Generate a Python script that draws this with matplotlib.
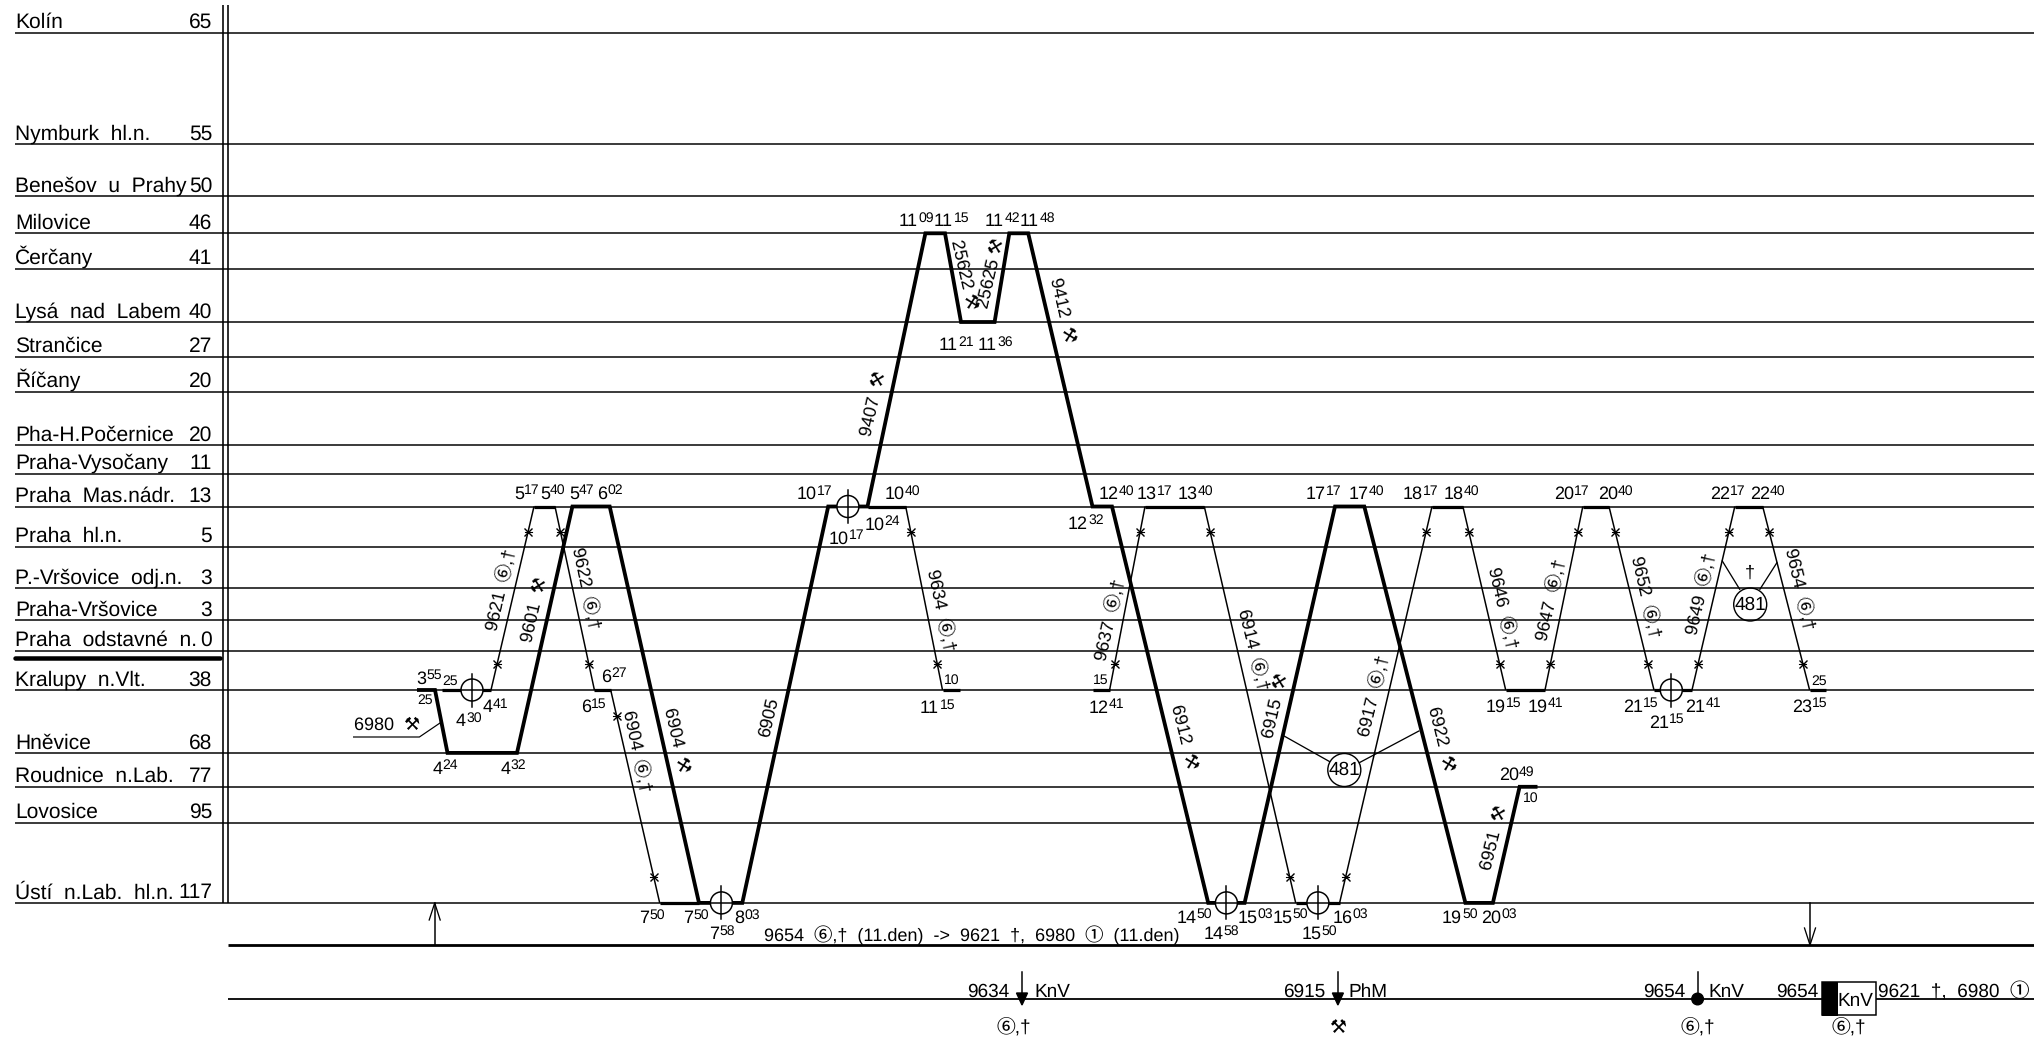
import matplotlib
matplotlib.use("Agg")
import matplotlib.pyplot as plt
from matplotlib.patches import Circle, Rectangle

FONT = ['Liberation Sans', 'Noto Sans CJK SC', 'DejaVu Sans']
plt.rcParams['font.family'] = FONT
plt.rcParams['text.hinting'] = 'no_hinting'
plt.rcParams['text.hinting_factor'] = 1

# ---------- data ----------
station_names = ["Kolín", "Nymburk  hl.n.", "Benešov  u  Prahy", "Milovice", "Čerčany",
                 "Lysá  nad  Labem", "Strančice", "Říčany", "Pha-H.Počernice", "Praha-Vysočany",
                 "Praha  Mas.nádr.", "Praha  hl.n.", "P.-Vršovice  odj.n.", "Praha-Vršovice",
                 "Praha  odstavné  n.", "Kralupy  n.Vlt.", "Hněvice", "Roudnice  n.Lab.",
                 "Lovosice", "Ústí  n.Lab.  hl.n."]
station_km = [65, 55, 50, 46, 41, 40, 27, 20, 20, 11, 13, 5, 3, 3, 0, 38, 68, 77, 95, 117]
station_pos = [32.7, 144.3, 196, 233.3, 268.7, 322, 356.7, 391.7, 445, 473.7,
               506.5, 546.8, 588.2, 620, 650.7, 690, 752.9, 786.8, 822.5, 902.9]
MIL, LYS, MAS, KRA, HNE, ROU, UST = 3, 5, 10, 15, 16, 17, 19

# Graph position of each turn of the thick (locomotive) diagram and its station
thick_x = [417, 435, 447.5, 517, 572.4, 609.7, 699, 742.3, 828.2, 867.5, 925.4, 945, 961, 994.6,
           1009.3, 1028.2, 1092.5, 1112, 1208.2, 1244.6, 1335, 1364.3, 1465.4, 1492.9, 1519.6, 1537.5]
thick_st = [KRA, KRA, HNE, HNE, MAS, MAS, UST, UST, MAS, MAS, MIL, MIL, LYS, LYS,
            MIL, MIL, MAS, MAS, UST, UST, MAS, MAS, UST, UST, ROU, ROU]

# Thin runs: each is a list of (x at top/bottom) with stations
thin_runs = {
    "9621": ([491, 534], [KRA, MAS]),
    "9622": ([555, 594.4], [MAS, KRA]),
    "6904": ([610.7, 659.7], [KRA, UST]),
    "9634": ([905.7, 942.5], [MAS, KRA]),
    "9637": ([1109.6, 1145], [KRA, MAS]),
    "6914": ([1204.3, 1295.7], [MAS, UST]),
    "6917": ([1339.6, 1432], [UST, MAS]),
    "9646": ([1462.9, 1505.7], [MAS, KRA]),
    "9647": ([1545, 1582.8], [KRA, MAS]),
    "9652": ([1609, 1654], [MAS, KRA]),
    "9649": ([1692, 1734.8], [KRA, MAS]),
    "9654": ([1762.7, 1809.6], [MAS, KRA]),
}
# Stops drawn heavy on the thin runs
stop_x0 = [442, 534, 594.4, 659.7, 867.5, 942.5, 1092.5, 1145, 1295.7, 1432, 1505.7, 1582.8, 1654, 1734.8, 1809.6]
stop_x1 = [491, 555, 610.7, 699, 905.7, 959.6, 1109.6, 1204.3, 1339.6, 1462.9, 1545, 1609, 1692, 1762.7, 1825.8]
stop_st = [KRA, MAS, KRA, UST, MAS, KRA, KRA, MAS, UST, MAS, KRA, MAS, KRA, MAS, KRA]

crossing_x = [472, 721.4, 847.9, 1226.4, 1317.9, 1671.3]
crossing_st = [KRA, UST, MAS, UST, UST, KRA]

# Train-number labels
train_labels = ["9621  ⑥,†", "9601  ⚒", "9622  ⑥,†", "6904  ⑥,†", "6904  ⚒", "6905",
                "9407  ⚒", "25622 ⚒", "25625 ⚒", "9412  ⚒", "9634  ⑥,†", "9637  ⑥,†",
                "6914  ⑥,†", "6915  ⚒", "6912  ⚒", "6917  ⑥,†", "6922  ⚒", "6951  ⚒",
                "9646  ⑥,†", "9647  ⑥,†", "9652  ⑥,†", "9649  ⑥,†", "9654  ⑥,†"]
# Time labels: hour, minutes
time_hours = ["5", "5", "5", "6", "3", "4", "4", "6", "6", "4", "4", "7", "7", "8", "7",
              "11", "11", "11", "11", "11", "11", "10", "10", "10", "10", "12", "13", "13", "12", "11", "12",
              "17", "17", "18", "18", "20", "14", "15", "15", "16", "14", "15", "19", "20", "20", "19", "19",
              "20", "22", "22", "21", "21", "21", "23"]
time_mins = ["17", "40", "47", "02", "55", "30", "41", "15", "27", "24", "32", "50", "50", "03", "58",
             "09", "15", "42", "48", "21", "36", "17", "40", "24", "17", "40", "17", "40", "32", "15", "41",
             "17", "40", "17", "40", "17", "50", "03", "50", "03", "58", "50", "50", "03", "49", "15", "41",
             "40", "17", "40", "15", "41", "15", "15"]
small_minutes = ["25", "25", "10", "15", "10", "25"]

# ---------- layout ----------
W, H = 2034, 1040
fig = plt.figure(figsize=(W / 100, H / 100), dpi=100)
ax = fig.add_axes([0, 0, 1, 1])
ax.set_xlim(0, W)
ax.set_ylim(H, 0)
ax.axis('off')

px = 0.72
LINE = 1.5 * px
THIN = 1.5 * px
THICK = 3.8 * px
STOP = 3.2 * px
BLK = '#000000'
yof = station_pos

# station lines and names
for n, k, y in zip(station_names, station_km, station_pos):
    ax.plot([15, W], [y, y], color=BLK, lw=LINE, solid_capstyle='butt', zorder=1)
    ax.text(15, y - 4.6, n, fontsize=15.2, va='baseline', ha='left', color=BLK)
    ax.text(212, y - 4.6, str(k), fontsize=15, va='baseline', ha='right', color=BLK)
ax.plot([15, 220], [658, 658], color=BLK, lw=4.5 * px, solid_capstyle='round', zorder=2)
for x in (223, 228):
    ax.plot([x, x], [5, 903], color=BLK, lw=1.6 * px, solid_capstyle='butt', zorder=2)
ax.plot([228, W], [945.4, 945.4], color=BLK, lw=2.8 * px, solid_capstyle='butt', zorder=2)
ax.plot([228, W], [998.6, 998.6], color=BLK, lw=1.8 * px, solid_capstyle='butt', zorder=2)

# heavy diagram
ax.plot(thick_x, [yof[s] for s in thick_st], color=BLK, lw=THICK, solid_joinstyle='miter',
        solid_capstyle='butt', zorder=3)
# thin runs and crosses
cross_levels = {"6904": (715.7, 877), "6914": (532, 876.5), "6917": (876.5, 532)}
for key, (xs, st) in thin_runs.items():
    ys = [yof[s] for s in st]
    ax.plot(xs, ys, color=BLK, lw=THIN, solid_capstyle='butt', zorder=3)
    if key in cross_levels:
        lv = cross_levels[key]
    else:
        lv = (532, 664) if ys[0] < ys[1] else (664, 532)
    for l in lv:
        xc = xs[0] + (xs[1] - xs[0]) * (l - ys[0]) / (ys[1] - ys[0])
        ax.plot([xc], [l], marker='x', ms=6, mew=1.0, color=BLK, zorder=4)
        ax.plot([xc - 3.5, xc + 3.5], [l, l], color=BLK, lw=0.8, zorder=4)
for a, b, s in zip(stop_x0, stop_x1, stop_st):
    ax.plot([a, b], [yof[s], yof[s]], color=BLK, lw=STOP, solid_capstyle='butt', zorder=3)

# crossing symbols
for x, s in zip(crossing_x, crossing_st):
    y = yof[s]
    ax.add_patch(Circle((x, y), 11, fill=True, fc='white', ec=BLK, lw=1.5 * px, zorder=4))
    ax.plot([x - 11, x + 11], [y, y], color=BLK, lw=LINE, zorder=5)
    ax.plot([x, x], [y - 16.5, y + 16.5], color=BLK, lw=1.5 * px, zorder=5)

# train labels
train_xy = [(501, 590, 77), (534.7, 610, 77), (585.7, 588, -78), (636.7, 750.7, -78), (676, 740, -77),
            (769, 717.5, 77), (873.6, 403.8, 77), (964, 274.5, -77), (991.4, 272.8, 77), (1062, 309.7, -77),
            (940.7, 610, -78), (1110.4, 620, 77), (1252.9, 650, -76), (1276, 705.6, 77), (1183.2, 737.3, -76),
            (1373.6, 696, 76), (1440.4, 739, -76), (1493.9, 837.3, 76), (1502.9, 608, -77), (1551, 600, 77),
            (1645.9, 597, -77), (1701, 593.6, 77), (1800, 589, -77)]
for t, (x, y, r) in zip(train_labels, train_xy):
    ax.text(x, y, t, fontsize=13, rotation=r, ha='center', va='center', color=BLK, zorder=6)

# time labels
fig.canvas.draw()
rend = fig.canvas.get_renderer()
time_xy = [(514, 498.6), (540, 498.6), (569, 498.6), (597, 498.6), (416, 683.6), (456, 726.4), (483, 712),
           (581, 712), (601, 681.8), (432.6, 773.6), (500.5, 773.6), (639, 922.9), (683, 922.9), (734, 922.9),
           (709, 939),
           (898.6, 226), (933.6, 226), (984.3, 226), (1020, 226), (938.6, 350), (977.5, 350),
           (797, 499.3), (884.3, 499.3), (864.3, 529.7), (829, 543.4), (1098.6, 499.3), (1137, 499.3),
           (1178, 499.3), (1067.9, 528.6), (920, 713), (1089, 713),
           (1305.4, 499.3), (1348.6, 499.3), (1402.9, 499.3), (1444, 499.3), (1554, 499.3),
           (1176.8, 922.7), (1237.5, 922.7), (1272.5, 922.7), (1332.5, 922.7), (1203.6, 939), (1301.4, 939),
           (1442, 922.7), (1481.4, 922.7), (1498.6, 780), (1485.7, 711.8), (1527.9, 711.8),
           (1598, 499.3), (1710, 499.3), (1750, 499.3), (1623, 711.8), (1685.5, 711.8), (1648.7, 727.5),
           (1792, 711.8)]
for h, m, (x, y) in zip(time_hours, time_mins, time_xy):
    ax.text(x, y, h, fontsize=13, va='baseline', ha='left', color=BLK, zorder=6)
    w = 0.556 * 13 / 0.72 * len(h)
    ax.text(x + w, y - 4.5, m, fontsize=9.8, va='baseline', ha='left', color=BLK, zorder=6)

small_xy = [(442, 684.6), (417, 703.6), (944.3, 684), (1092.5, 684), (1522.5, 802), (1811, 684.5)]
for m, (x, y) in zip(small_minutes, small_xy):
    ax.text(x, y, m, fontsize=9.8, va='baseline', ha='left', color=BLK, zorder=6)

# 6980 leader
ax.text(353.6, 730, "6980  ⚒", fontsize=13.2, va='baseline', ha='left', color=BLK)
ax.plot([353.6, 419.4, 440], [737, 737, 723], color=BLK, lw=1.2 * px, zorder=3)

# 481 circles
for x, y in [(1344.3, 770), (1750.2, 604.5)]:
    ax.add_patch(Circle((x, y), 16.5, fill=False, ec=BLK, lw=1.4 * px, zorder=5))
    ax.text(x, y, "481", fontsize=13.5, ha='center', va='center', color=BLK, zorder=6)
for xs, ys in [([1283.2, 1329.6], [735.5, 761.6]), ([1418.9, 1359.3], [731, 762.7]),
               ([1722.3, 1739.7], [561, 589.3]), ([1776.9, 1759.9], [562.7, 589.3])]:
    ax.plot(xs, ys, color=BLK, lw=1.3 * px, zorder=4)
ax.text(1750, 573.6, "†", fontsize=13, ha='center', va='center', color=BLK, zorder=6)

# open arrows between rows
for x, y0, y1 in [(434.7, 945, 903), (1810, 903, 945)]:
    d = 1 if y1 > y0 else -1
    ax.plot([x, x], [y0, y1], color=BLK, lw=1.5 * px, zorder=3)
    ax.plot([x - 5.5, x, x + 5.5], [y1 - d * 17, y1, y1 - d * 17], color=BLK, lw=1.3 * px, zorder=3)

# footer notes
ax.text(764, 941.6, "9654  ⑥,†  (11.den)  ->  9621  †,  6980  ①  (11.den)", fontsize=13.2,
        va='baseline', ha='left', color=BLK)
FS = 14
for x, s in [(967.6, "9634"), (1283, "6915"), (1643.4, "9654"), (1776, "9654")]:
    ax.text(x, 997, s, fontsize=FS, va='baseline', ha='left', color=BLK)
for x, s in [(1034, "KnV"), (1348.6, "PhM"), (1708.5, "KnV")]:
    ax.text(x, 997, s, fontsize=FS, va='baseline', ha='left', color=BLK)
for x in (1022, 1337.9):
    ax.plot([x, x], [972, 995], color=BLK, lw=1.5 * px, zorder=3)
    ax.fill([x - 5.5, x + 5.5, x], [993, 993, 1005], color=BLK, zorder=3)
ax.plot([1697.6, 1697.6], [972, 999], color=BLK, lw=1.5 * px, zorder=3)
ax.add_patch(Circle((1697.6, 999), 5.8, fc=BLK, ec=BLK, zorder=4))
ax.add_patch(Rectangle((1821.8, 982), 54.2, 32.7, fc='white', ec=BLK, lw=1.5 * px, zorder=4))
ax.add_patch(Rectangle((1821.8, 982), 15, 32.7, fc=BLK, ec=BLK, lw=1 * px, zorder=5))
ax.text(1837.5, 1006, "KnV", fontsize=FS, va='baseline', ha='left', color=BLK, zorder=6)
ax.text(1878.4, 997, "9621  †,  6980  ①", fontsize=FS, va='baseline', ha='left', color=BLK)
for x, s in [(1014, "⑥,†"), (1337.9, "⚒"), (1697.6, "⑥,†"), (1849, "⑥,†")]:
    ax.text(x, 1028, s, fontsize=13.5, ha='center', va='center', color=BLK)

fig.savefig("out.png", dpi=100, facecolor='white')
